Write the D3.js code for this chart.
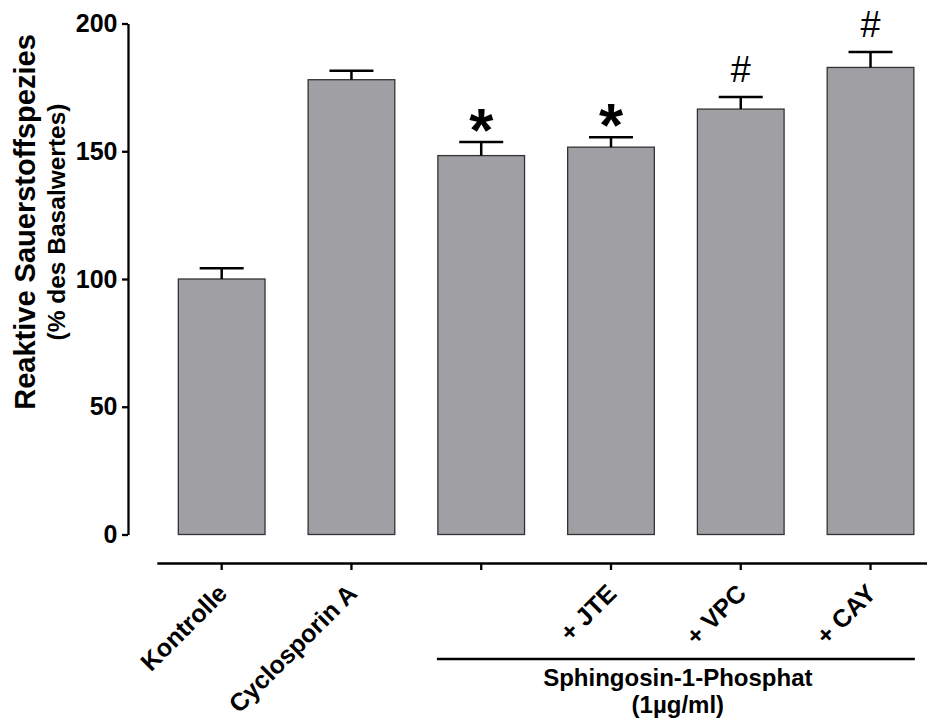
<!DOCTYPE html>
<html>
<head>
<meta charset="utf-8">
<script src="https://cdn.jsdelivr.net/npm/d3@7"></script>
<style>
  html, body { margin: 0; padding: 0; background: #fff; }
  svg { display: block; font-family: "Liberation Sans", Arial, sans-serif; }
</style>
</head>
<body>
<svg id="chart" width="927" height="722"></svg>
<script>
// Reactive oxygen species relative to baseline (mean ± SEM)
const categories = ["Kontrolle", "Cyclosporin A", "", "+ JTE", "+ VPC", "+ CAY"];
const means = [100, 178, 148.3, 151.6, 166.5, 182.8];
const errors = [4.2, 3.5, 5.3, 3.9, 4.7, 6.0];
const marks = ["", "", "*", "*", "#", "#"];
const yTicks = [0, 50, 100, 150, 200];
const groupLabel = ["Sphingosin-1-Phosphat", "(1µg/ml)"];
const groupMembers = [2, 5]; // first and last bar under the bracket

const svg = d3.select("#chart");

const y = d3.scaleLinear().domain([0, 200]).range([534.5, 23.5]);
const x = d3.scaleBand()
  .domain(d3.range(categories.length))
  .range([156.8, 935.4])
  .paddingInner(0.332)
  .paddingOuter(0.166);

// Bars
svg.append("g").selectAll("rect")
  .data(means)
  .join("rect")
  .attr("x", (d, i) => x(i))
  .attr("width", x.bandwidth())
  .attr("y", d => y(d))
  .attr("height", d => y(0) - y(d))
  .attr("fill", "#a09fa4")
  .attr("stroke", "#333")
  .attr("stroke-width", 1.3);

// Upper error bars
const capW = 44;
const eb = svg.append("g").attr("stroke", "#000").attr("stroke-width", 2.5);
means.forEach((m, i) => {
  const cx = x(i) + x.bandwidth() / 2;
  eb.append("line").attr("x1", cx).attr("x2", cx).attr("y1", y(m)).attr("y2", y(m + errors[i]));
  eb.append("line").attr("x1", cx - capW / 2).attr("x2", cx + capW / 2)
    .attr("y1", y(m + errors[i])).attr("y2", y(m + errors[i]));
});

// Significance markers
means.forEach((m, i) => {
  if (!marks[i]) return;
  const cx = x(i) + x.bandwidth() / 2;
  const top = y(m + errors[i]);
  if (marks[i] === "*") {
    svg.append("text").attr("x", cx).attr("y", top - 15 + 24)
      .attr("text-anchor", "middle").attr("font-size", 62).attr("font-weight", "bold")
      .text("*");
  } else {
    svg.append("text").attr("x", cx).attr("y", top - 15.5)
      .attr("text-anchor", "middle").attr("font-size", 36)
      .text("#");
  }
});

// Y axis
const yAxis = svg.append("g")
  .attr("transform", "translate(128,0)")
  .call(d3.axisLeft(y).tickValues(yTicks).tickSize(6).tickSizeOuter(0).tickPadding(4.5));
yAxis.select(".domain").attr("stroke-width", 2.3);
yAxis.selectAll(".tick line").attr("stroke-width", 2.3);
yAxis.selectAll(".tick text").attr("font-size", 25).attr("font-weight", "bold")
  .attr("font-family", "Liberation Sans, Arial, sans-serif").attr("fill", "#000");

// X axis
const xAxis = svg.append("g")
  .attr("transform", "translate(0,563)")
  .call(d3.axisBottom(x).tickSize(7).tickSizeOuter(0).tickFormat(i => categories[i]));
xAxis.select(".domain").attr("stroke-width", 2.3);
xAxis.selectAll(".tick line").attr("stroke-width", 2.3);
xAxis.selectAll(".tick text")
  .attr("font-size", 25).attr("font-weight", "bold")
  .attr("font-family", "Liberation Sans, Arial, sans-serif").attr("fill", "#000")
  .attr("text-anchor", "end")
  .attr("dy", 0).attr("y", 0)
  .attr("transform", "translate(7,32) rotate(-45)");

// Bracket under the S1P-treated group
const gx0 = x(groupMembers[0]) - 1;
const gx1 = x(groupMembers[1]) + x.bandwidth() + 1;
svg.append("line").attr("x1", gx0).attr("x2", gx1).attr("y1", 659).attr("y2", 659)
  .attr("stroke", "#000").attr("stroke-width", 2.3);
const gcx = (x(groupMembers[0]) + x.bandwidth() / 2 + x(groupMembers[1]) + x.bandwidth() / 2) / 2 + 2;
svg.append("text").attr("x", gcx).attr("y", 685.5).attr("text-anchor", "middle")
  .attr("font-size", 24).attr("font-weight", "bold").text(groupLabel[0]);
svg.append("text").attr("x", gcx).attr("y", 712.5).attr("text-anchor", "middle")
  .attr("font-size", 24).attr("font-weight", "bold").text(groupLabel[1]);

// Y axis title
svg.append("text").attr("transform", "rotate(-90)")
  .attr("x", -222).attr("y", 35).attr("text-anchor", "middle")
  .attr("font-size", 29).attr("font-weight", "bold")
  .text("Reaktive Sauerstoffspezies");
svg.append("text").attr("transform", "rotate(-90)")
  .attr("x", -222).attr("y", 65).attr("text-anchor", "middle")
  .attr("font-size", 24.5).attr("font-weight", "bold")
  .text("(% des Basalwertes)");
</script>
</body>
</html>
